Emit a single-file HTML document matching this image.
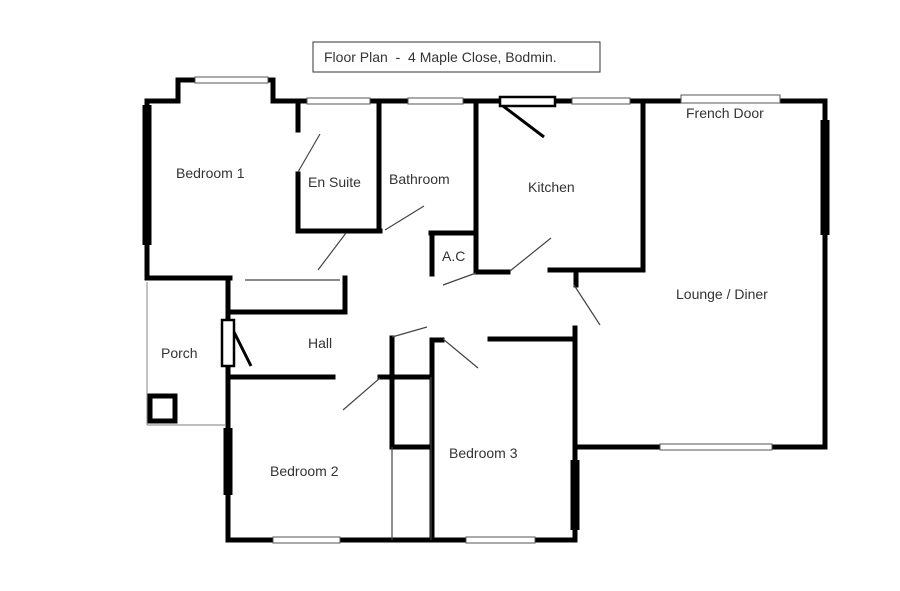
<!DOCTYPE html>
<html><head><meta charset="utf-8"><style>
html,body{margin:0;padding:0;background:#fff;}
svg{display:block;}
text{font-family:"Liberation Sans",sans-serif;font-size:14px;fill:#333;}
</style></head><body>
<svg width="900" height="591" viewBox="0 0 900 591" xmlns="http://www.w3.org/2000/svg">
<rect x="313" y="42" width="287" height="30" fill="#fff" stroke="#333" stroke-width="1"/>
<text x="324" y="62">Floor Plan &#160;- &#160;4 Maple Close, Bodmin.</text>
<g stroke="#000" stroke-width="5" fill="none" stroke-linecap="square">
<path d="M147 101 H178 V80 H273 V101 H825 V447 H578"/>
<path d="M147 101 V278 H230"/>
<path d="M228 280 V312 H345 V278"/>
<path d="M228 312 V540 H575 V328"/>
<path d="M232 377 H333"/>
<path d="M298 101 V130 M298 174 V231 H380 M379 101 V231"/>
<path d="M476 101 V272 H508 M550 270 H643 V101"/>
<path d="M431 233 H476 M432 233 V274"/>
<path d="M392 338 V447 H432 M380 377 H432 M432 540 V340 H442"/>
<path d="M490 339 H575"/>
<path d="M576 272 V285"/>
</g>
<g stroke="#000" stroke-width="9">
<line x1="825" y1="120" x2="825" y2="235"/>
<line x1="228" y1="428" x2="228" y2="495"/>
<line x1="575" y1="460" x2="575" y2="530"/>
<line x1="147" y1="105" x2="147" y2="245"/>
</g>
<g fill="#fff" stroke="#555" stroke-width="1">
<rect x="195" y="77" width="73" height="6"/>
<rect x="307" y="98" width="63" height="6"/>
<rect x="408" y="98" width="55" height="6"/>
<rect x="572" y="98" width="58" height="6"/>
<rect x="681" y="95" width="99" height="8"/>
<rect x="660" y="444" width="112" height="6"/>
<rect x="273" y="537" width="67" height="6"/>
<rect x="466" y="537" width="69" height="6"/>
</g>
<rect x="500" y="97" width="55" height="9" fill="#fff" stroke="#000" stroke-width="2.5"/>
<rect x="222" y="320" width="12" height="46" fill="#fff" stroke="#000" stroke-width="2.5"/>
<g stroke="#000" stroke-width="3"><line x1="503" y1="106" x2="544" y2="137"/><line x1="234" y1="332" x2="251" y2="366"/></g>
<g stroke="#999" stroke-width="1.2" fill="none">
<line x1="147" y1="282" x2="147" y2="425"/><line x1="147" y1="425" x2="225" y2="425"/>
</g>
<rect x="150" y="396" width="25" height="25" fill="none" stroke="#000" stroke-width="5"/>
<g stroke="#444" stroke-width="1.2">
<line x1="245" y1="280" x2="340" y2="280"/>
<line x1="298" y1="172" x2="320" y2="134"/>
<line x1="318" y1="270" x2="346" y2="233"/>
<line x1="385" y1="230" x2="424" y2="206"/>
<line x1="443" y1="285" x2="476" y2="273"/>
<line x1="510" y1="271" x2="551" y2="238"/>
<line x1="574" y1="285" x2="600" y2="325"/>
<line x1="392" y1="337" x2="427" y2="327"/>
<line x1="443" y1="339" x2="478" y2="368"/>
<line x1="343" y1="410" x2="380" y2="378"/>
<line x1="392" y1="447" x2="392" y2="540"/>
<line x1="431" y1="377" x2="431" y2="540"/>
</g>
<text x="176" y="178">Bedroom 1</text>
<text x="308" y="187">En Suite</text>
<text x="389" y="184">Bathroom</text>
<text x="442" y="261">A.C</text>
<text x="528" y="192">Kitchen</text>
<text x="686" y="118">French Door</text>
<text x="676" y="299">Lounge / Diner</text>
<text x="161" y="358">Porch</text>
<text x="308" y="348">Hall</text>
<text x="270" y="476">Bedroom 2</text>
<text x="449" y="458">Bedroom 3</text>
</svg>
</body></html>
